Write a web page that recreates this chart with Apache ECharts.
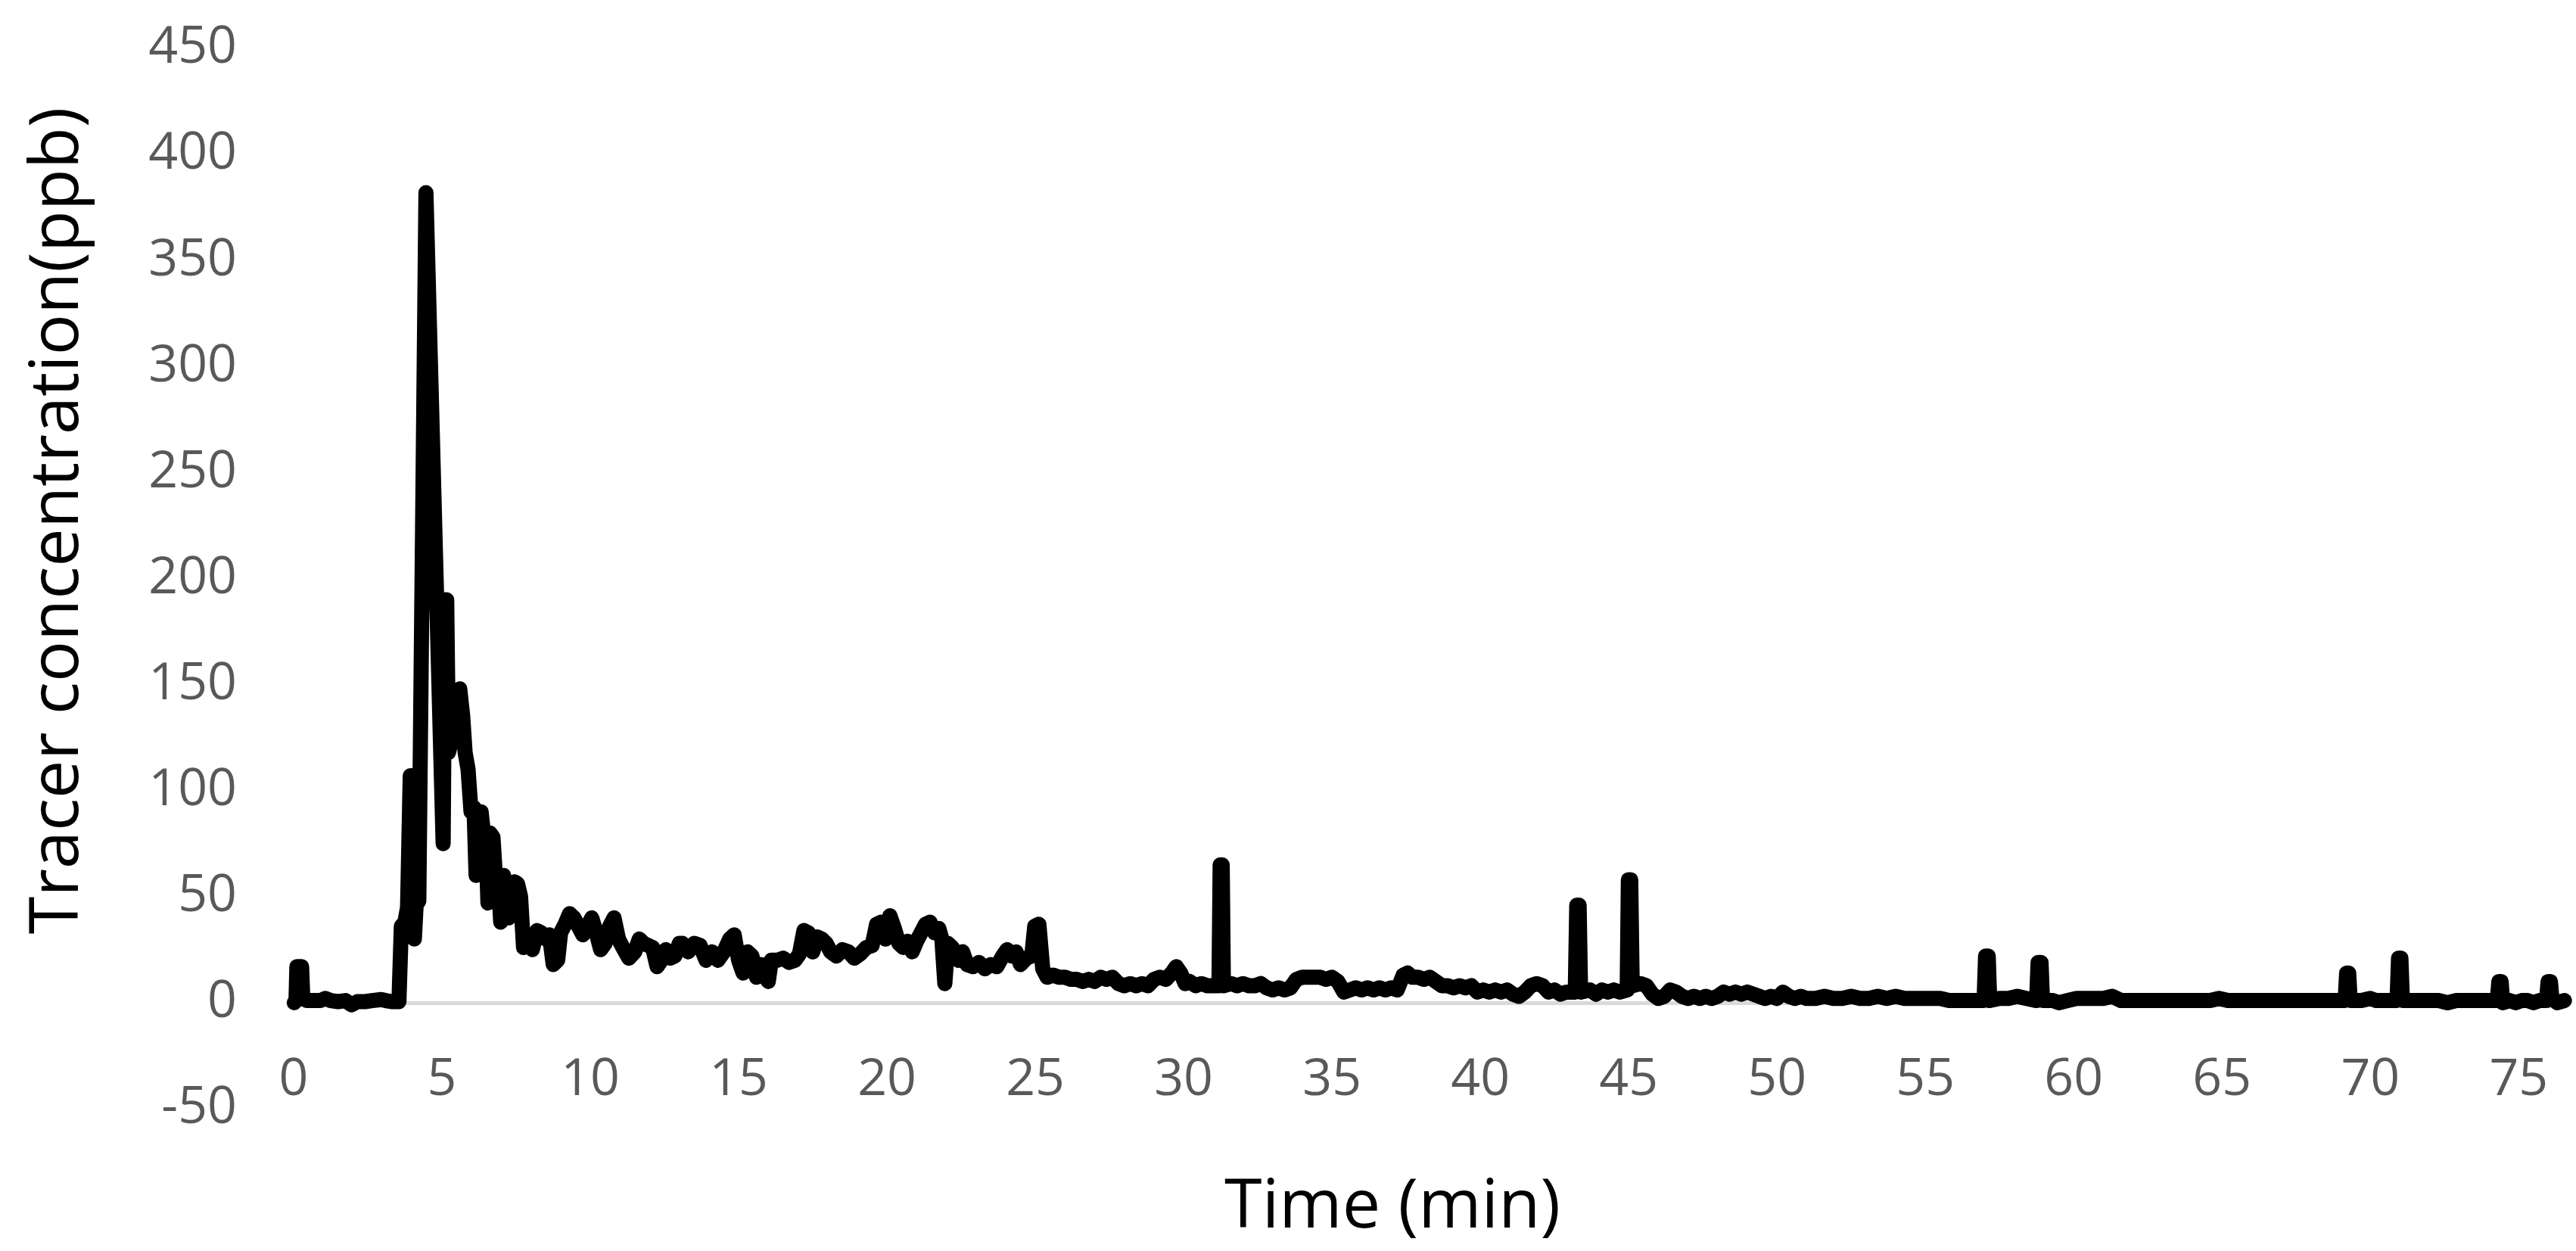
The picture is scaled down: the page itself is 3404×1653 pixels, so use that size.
<!DOCTYPE html>
<html>
<head>
<meta charset="utf-8">
<title>Tracer concentration</title>
<script src="https://cdn.jsdelivr.net/npm/echarts@6/dist/echarts.min.js"></script>
<style>
html, body { margin: 0; padding: 0; background: #fff; }
#chart { width: 3404px; height: 1653px; }
</style>
</head>
<body>
<div id="chart"></div>
<script>
// [time (min), concentration (ppb)], by stretch
const beforeArrival = [
  [0.02, 0], [0.08, 1], [0.11, 17], [0.27, 17], [0.31, 2], [0.45, 1], [0.7, 1], [0.9, 1],
  [1.07, 2], [1.25, 1], [1.5, 0.5], [1.75, 1], [1.95, -1], [2.15, 0.5], [2.4, 0.5], [2.65, 1],
  [2.95, 1.5], [3.1, 1], [3.3, 0.5], [3.55, 0.5]
]
const mainPeak = [
  [3.63, 36], [3.75, 38], [3.84, 45], [3.93, 107], [4.02, 107], [4.07, 30], [4.13, 46], [4.22, 48],
  [4.46, 382], [5.04, 75], [5.1, 190], [5.16, 190], [5.22, 118], [5.35, 125], [5.5, 140], [5.6, 148],
  [5.7, 135], [5.78, 118], [5.88, 110], [5.98, 90], [6.08, 92], [6.15, 60], [6.22, 88], [6.32, 90],
  [6.4, 80], [6.48, 78], [6.55, 47], [6.62, 80], [6.72, 78], [6.8, 60], [6.9, 58], [6.98, 38],
  [7.08, 60], [7.16, 48], [7.25, 40], [7.35, 55], [7.45, 57], [7.55, 56], [7.65, 50], [7.75, 26],
  [7.9, 28], [8.05, 25], [8.2, 34], [8.35, 33], [8.5, 30], [8.62, 32], [8.75, 18], [8.9, 20],
  [9.0, 33], [9.15, 37], [9.3, 42], [9.45, 40], [9.6, 36], [9.75, 32], [9.9, 36], [10.05, 40],
  [10.2, 33], [10.35, 25], [10.5, 28], [10.65, 36], [10.8, 40], [10.95, 30], [11.1, 26], [11.3, 21],
  [11.5, 24], [11.65, 30], [11.8, 28], [11.95, 27], [12.1, 26], [12.25, 17], [12.4, 20], [12.55, 25],
  [12.7, 21], [12.85, 22], [13.0, 28]
]
const earlyTail = [
  [13.1, 28], [13.3, 24], [13.5, 28], [13.7, 27], [13.9, 20], [14.1, 24], [14.3, 20], [14.5, 24],
  [14.7, 30], [14.85, 32], [15.0, 20], [15.15, 14], [15.3, 24], [15.45, 22], [15.6, 12], [15.75, 18],
  [15.9, 12], [16.0, 10], [16.1, 20], [16.3, 20], [16.5, 21], [16.7, 19], [16.9, 20], [17.05, 23],
  [17.2, 34], [17.35, 33], [17.5, 24], [17.65, 31], [17.8, 30], [17.95, 28], [18.1, 24], [18.3, 22],
  [18.5, 25], [18.7, 24], [18.9, 21], [19.1, 23], [19.3, 26], [19.5, 27], [19.65, 37], [19.8, 38],
  [19.95, 30], [20.1, 41], [20.25, 35], [20.4, 28], [20.55, 26], [20.7, 29], [20.85, 24], [21.0, 29],
  [21.15, 33], [21.3, 37], [21.45, 38], [21.6, 33], [21.75, 35], [21.85, 30], [21.95, 9], [22.05, 28],
  [22.2, 26], [22.4, 20], [22.55, 24], [22.7, 18], [22.9, 17], [23.1, 19], [23.3, 16], [23.5, 18],
  [23.7, 17], [23.9, 22], [24.05, 25], [24.2, 22], [24.35, 24], [24.5, 18], [24.7, 21], [24.88, 22],
  [24.98, 36], [25.12, 37], [25.25, 16], [25.4, 12], [25.6, 13], [25.8, 12], [26.0, 12], [26.2, 11]
]
const midTail = [
  [26.4, 11], [26.6, 10], [26.8, 11], [27.0, 10], [27.2, 12], [27.4, 11], [27.6, 12], [27.8, 9],
  [28.0, 8], [28.2, 9], [28.4, 8], [28.6, 9], [28.8, 8], [29.0, 11], [29.2, 12], [29.4, 11],
  [29.6, 14], [29.75, 17], [29.9, 14], [30.05, 9], [30.2, 10], [30.4, 8], [30.6, 9], [30.8, 8],
  [31.19, 8], [31.23, 65], [31.3, 65], [31.34, 8], [31.6, 9], [31.8, 8], [32.0, 9], [32.2, 8],
  [32.4, 8], [32.6, 9], [32.8, 7], [33.0, 6], [33.2, 7], [33.4, 6], [33.6, 7], [33.8, 11],
  [34.0, 12], [34.2, 12], [34.4, 12], [34.6, 12], [34.8, 11], [35.0, 12], [35.2, 10], [35.4, 5],
  [35.6, 6], [35.8, 7], [36.0, 6], [36.2, 7], [36.4, 6], [36.6, 7], [36.8, 6], [37.0, 7],
  [37.2, 6], [37.4, 13], [37.55, 14], [37.7, 12], [37.9, 12], [38.1, 11], [38.3, 12], [38.5, 10],
  [38.7, 8], [38.9, 8], [39.1, 7], [39.3, 8], [39.5, 7]
]
const lateTail = [
  [39.7, 8], [39.9, 5], [40.1, 6], [40.3, 5], [40.5, 6], [40.7, 5], [40.9, 6], [41.1, 4],
  [41.3, 3], [41.5, 5], [41.7, 8], [41.9, 9], [42.1, 8], [42.3, 5], [42.5, 6], [42.7, 4],
  [42.9, 5], [43.2, 5], [43.25, 46], [43.33, 46], [43.38, 5], [43.7, 6], [43.9, 4], [44.1, 6],
  [44.3, 5], [44.5, 6], [44.7, 5], [44.95, 6], [44.99, 58], [45.07, 58], [45.12, 8], [45.4, 9],
  [45.6, 8], [45.8, 4], [46.0, 2], [46.2, 3], [46.4, 6], [46.6, 5], [46.8, 3], [47.0, 2],
  [47.2, 3], [47.4, 2], [47.6, 3], [47.8, 2], [48.0, 3], [48.2, 5], [48.4, 4], [48.6, 5],
  [48.8, 4], [49.0, 5], [49.2, 4], [49.4, 3], [49.6, 2], [49.8, 3], [50.0, 2], [50.2, 5],
  [50.4, 3], [50.6, 2], [50.8, 3], [51.0, 2], [51.3, 2], [51.6, 3], [51.9, 2], [52.2, 2],
  [52.5, 3], [52.8, 2]
]
const baseline = [
  [53.1, 2], [53.4, 3], [53.7, 2], [54.0, 3], [54.3, 2], [54.6, 2], [54.9, 2], [55.2, 2],
  [55.5, 2], [55.8, 1], [56.1, 1], [56.4, 1], [56.7, 1], [56.98, 1], [57.03, 22], [57.12, 22],
  [57.17, 1], [57.5, 2], [57.8, 2], [58.1, 3], [58.4, 2], [58.75, 1], [58.8, 19], [58.9, 19],
  [58.95, 1], [59.3, 1], [59.5, 0], [59.8, 1], [60.1, 2], [60.4, 2], [60.7, 2], [61.0, 2],
  [61.3, 3], [61.6, 1], [61.9, 1], [62.2, 1], [62.5, 1], [62.8, 1], [63.1, 1], [63.4, 1],
  [63.7, 1], [64.0, 1], [64.3, 1], [64.6, 1], [64.9, 2], [65.2, 1], [65.5, 1], [65.8, 1],
  [66.1, 1], [66.4, 1], [66.7, 1], [67.0, 1], [67.3, 1], [67.6, 1], [67.9, 1], [68.2, 1],
  [68.5, 1], [68.8, 1], [69.15, 1], [69.2, 14], [69.27, 14], [69.32, 1], [69.7, 1], [70.0, 2],
  [70.2, 1], [70.5, 1], [70.9, 1], [70.95, 21], [71.03, 21], [71.08, 1], [71.4, 1], [71.7, 1],
  [72.0, 1], [72.3, 1], [72.6, 0], [72.9, 1], [73.2, 1], [73.5, 1], [73.8, 1], [74.1, 1],
  [74.28, 1], [74.33, 10], [74.41, 10], [74.46, 0], [74.7, 1], [74.9, 0], [75.1, 1], [75.3, 1],
  [75.5, 0], [75.7, 1], [75.94, 1], [75.99, 10], [76.07, 10], [76.12, 2], [76.3, 0], [76.54, 1]
]

// axis scales
const xMin = 0, xMax = 76.6, xStep = 5
const yMin = -50, yMax = 450, yStep = 50

const series = [].concat(beforeArrival, mainPeak, earlyTail, midTail, lateTail, baseline)

const chart = echarts.init(document.getElementById('chart'))
const labelFont = { fontFamily: 'Open Sans', color: '#595959', fontSize: 68 }

// plot box: y = 450 at 64px, y = -50 at 1465px, so the zero line sits 140px above the bottom
chart.setOption({
  animation: false,
  backgroundColor: '#fff',
  grid: { left: 388, right: 13, top: 64, bottom: 188, outerBoundsMode: 'none', containLabel: false },
  xAxis: {
    type: 'value',
    min: xMin, max: xMax, interval: xStep,
    offset: -140,
    name: 'Time (min)',
    nameLocation: 'middle',
    nameGap: 226,
    nameTextStyle: { fontFamily: 'Open Sans', fontSize: 90, color: '#000', padding: [0, 99, 0, 0] },
    axisLine: { onZero: false, lineStyle: { color: '#d9d9d9', width: 5 } },
    axisTick: { show: false },
    splitLine: { show: false },
    axisLabel: { ...labelFont, margin: 69, showMaxLabel: false }
  },
  yAxis: {
    type: 'value',
    min: yMin, max: yMax, interval: yStep,
    name: 'Tracer concentration(ppb)',
    nameLocation: 'middle',
    nameGap: 266,
    nameTextStyle: { fontFamily: 'Open Sans', fontSize: 90, color: '#000', padding: [0, 0, 0, 153] },
    axisLine: { show: false },
    axisTick: { show: false },
    splitLine: { show: false },
    axisLabel: { ...labelFont, margin: 75 }
  },
  series: [{
    type: 'line',
    data: series,
    showSymbol: false,
    sampling: false,
    lineStyle: { color: '#000', width: 20, cap: 'round', join: 'round' }
  }]
})
</script>
</body>
</html>
